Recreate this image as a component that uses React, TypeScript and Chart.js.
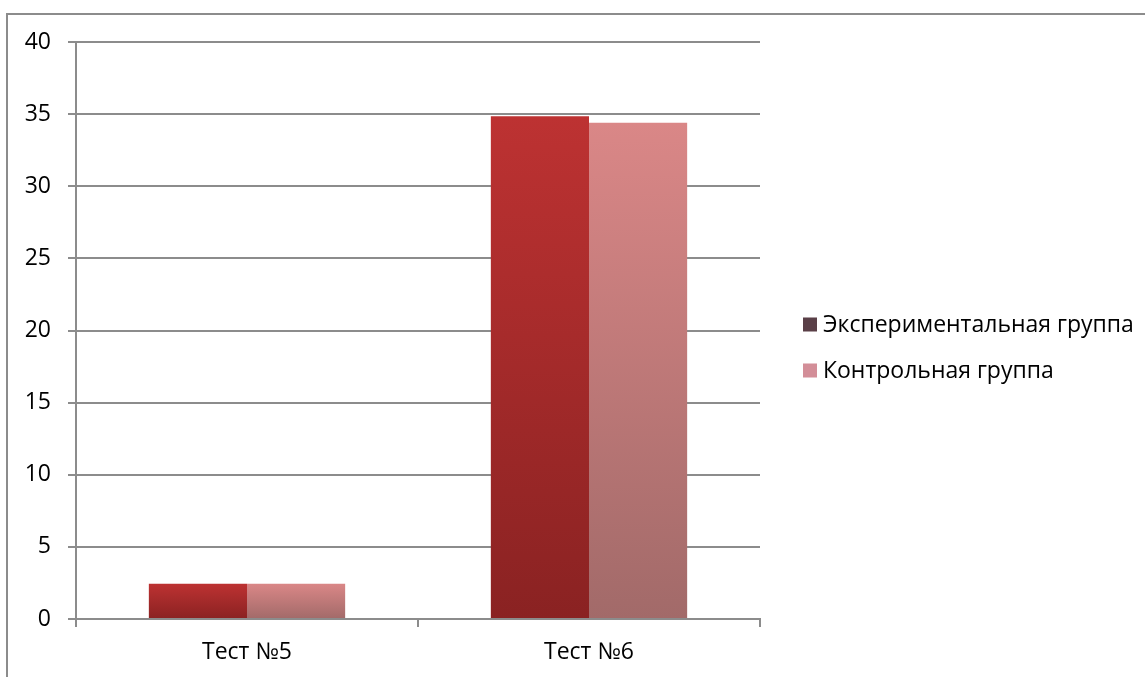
import React, { useEffect, useRef } from "react";
import { Chart, registerables } from "chart.js";

Chart.register(...registerables);

// Категории и значения
const categories = ["Тест №5", "Тест №6"];
const experimentalValues = [2.45, 34.85];
const controlValues = [2.45, 34.4];
const seriesNames = ["Экспериментальная группа", "Контрольная группа"];
const yMax = 40;
const yStep = 5;

const FONT_FAMILY = "'Open Sans', 'Noto Sans', sans-serif";
const FONT_SIZE = 23;
const GRID_COLOR = "#8c8c8c";

// Вертикальный градиент на каждый столбец: от верхнего края до нуля
function barGradient(top: string, bottom: string) {
  return (ctx: any) => {
    const chart = ctx.chart;
    const yScale = chart.scales?.y;
    if (ctx.type !== "data" || !yScale) return top;
    const yTop = yScale.getPixelForValue(ctx.raw);
    const yBase = yScale.getPixelForValue(0);
    if (!isFinite(yTop) || !isFinite(yBase) || yTop === yBase) return top;
    const g = chart.ctx.createLinearGradient(0, yTop, 0, yBase);
    g.addColorStop(0, top);
    g.addColorStop(1, bottom);
    return g;
  };
}

// Рамка вокруг всей диаграммы
const framePlugin = {
  id: "frame",
  beforeDraw(chart: any) {
    const c = chart.ctx;
    c.save();
    c.fillStyle = "#ffffff";
    c.fillRect(0, 0, chart.width, chart.height);
    c.strokeStyle = GRID_COLOR;
    c.lineWidth = 2;
    c.strokeRect(7, 14, chart.width + 20, chart.height + 20);
    c.restore();
  },
};

// Легенда справа от области построения
const legendMarkers = ["#5a3f47", "#d38e98"];
const sideLegendPlugin = {
  id: "sideLegend",
  afterDraw(chart: any) {
    const area = chart.chartArea;
    const c = chart.ctx;
    const x = area.right + 43;
    const midY = (area.top + area.bottom) / 2 + 17;
    const rowGap = 46;
    const box = 14;
    c.save();
    c.font = `${FONT_SIZE}px ${FONT_FAMILY}`;
    c.textBaseline = "middle";
    c.textAlign = "left";
    seriesNames.forEach((name, i) => {
      const cy = midY + (i - (seriesNames.length - 1) / 2) * rowGap;
      c.fillStyle = legendMarkers[i];
      c.fillRect(x, cy - box / 2, box, box);
      c.fillStyle = "#000000";
      c.fillText(name, x + box + 6, cy + 1);
    });
    c.restore();
  },
};

export default function App() {
  const canvasRef = useRef<HTMLCanvasElement | null>(null);

  useEffect(() => {
    if (!canvasRef.current) return;
    const chart = new Chart(canvasRef.current, {
      type: "bar",
      data: {
        labels: categories,
        datasets: [
          {
            label: seriesNames[0],
            data: experimentalValues,
            backgroundColor: barGradient("#bd3232", "#8a2222"),
            borderWidth: 0,
          },
          {
            label: seriesNames[1],
            data: controlValues,
            backgroundColor: barGradient("#da8787", "#a26a69"),
            borderWidth: 0,
          },
        ],
      },
      options: {
        animation: false,
        responsive: true,
        maintainAspectRatio: false,
        devicePixelRatio: 1,
        layout: { padding: { top: 42, right: 385, bottom: 0, left: 0 } },
        datasets: {
          bar: { categoryPercentage: 0.574, barPercentage: 1.0 },
        },
        plugins: {
          legend: { display: false },
          tooltip: { enabled: false },
        },
        scales: {
          x: {
            offset: true,
            grid: {
              offset: true,
              drawOnChartArea: false,
              drawTicks: true,
              tickLength: 8,
              color: GRID_COLOR,
              lineWidth: 2,
            },
            border: { display: true, color: GRID_COLOR, width: 2 },
            ticks: {
              color: "#000000",
              padding: 12,
              font: { family: FONT_FAMILY, size: FONT_SIZE },
            },
            afterFit: (s: any) => {
              s.height = 58;
            },
          },
          y: {
            min: 0,
            max: yMax,
            grid: {
              color: GRID_COLOR,
              lineWidth: 2,
              tickLength: 8,
              drawTicks: true,
            },
            border: { display: true, color: GRID_COLOR, width: 2 },
            ticks: {
              stepSize: yStep,
              color: "#000000",
              padding: 17,
              font: { family: FONT_FAMILY, size: FONT_SIZE },
            },
            afterFit: (s: any) => {
              s.width = 76;
            },
          },
        },
      },
      plugins: [framePlugin, sideLegendPlugin],
    });
    return () => chart.destroy();
  }, []);

  return (
    <div
      style={{
        position: "absolute",
        left: 0,
        top: 0,
        width: 1145,
        height: 677,
      }}
    >
      <canvas ref={canvasRef} />
    </div>
  );
}
